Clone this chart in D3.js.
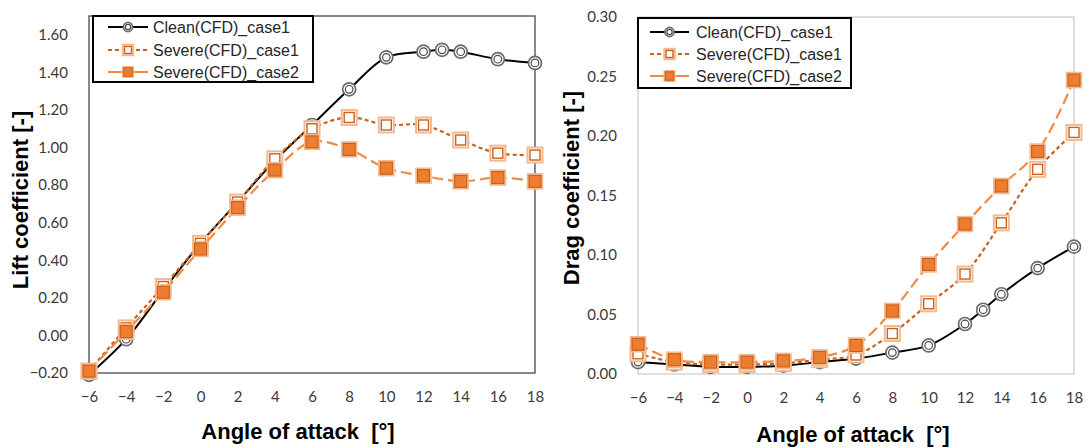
<!DOCTYPE html>
<html><head><meta charset="utf-8">
<script src="https://cdn.jsdelivr.net/npm/d3@7"></script>
<style>body{margin:0;background:#fff}svg{display:block}text{white-space:pre}</style>
</head><body><svg id="c" width="1089" height="448"></svg>
<script>
// ---- data ----
const seriesNames = ["Clean(CFD)_case1", "Severe(CFD)_case1", "Severe(CFD)_case2"];
const aoaClean  = [-6, -4, -2, 0, 2, 4, 6, 8, 10, 12, 13, 14, 16, 18];
const aoaSevere = [-6, -4, -2, 0, 2, 4, 6, 8, 10, 12, 14, 16, 18];
const liftClean   = [-0.21, -0.02, 0.24, 0.49, 0.71, 0.93, 1.12, 1.31, 1.48, 1.51, 1.52, 1.51, 1.47, 1.45];
const liftSevere1 = [-0.19, 0.04, 0.26, 0.49, 0.71, 0.94, 1.10, 1.16, 1.12, 1.12, 1.04, 0.97, 0.96];
const liftSevere2 = [-0.19, 0.02, 0.23, 0.46, 0.68, 0.88, 1.03, 0.99, 0.89, 0.85, 0.82, 0.84, 0.82];
const dragClean   = [0.010, 0.008, 0.006, 0.006, 0.007, 0.010, 0.013, 0.018, 0.024, 0.042, 0.054, 0.067, 0.089, 0.107];
const dragSevere1 = [0.017, 0.010, 0.008, 0.008, 0.009, 0.012, 0.016, 0.034, 0.059, 0.084, 0.127, 0.172, 0.203];
const dragSevere2 = [0.025, 0.012, 0.010, 0.010, 0.011, 0.014, 0.024, 0.053, 0.092, 0.126, 0.158, 0.187, 0.247];
const xTicks = [-6, -4, -2, 0, 2, 4, 6, 8, 10, 12, 14, 16, 18];
const liftTicks = [-0.2, 0, 0.2, 0.4, 0.6, 0.8, 1.0, 1.2, 1.4, 1.6];
const dragTicks = [0, 0.05, 0.10, 0.15, 0.20, 0.25, 0.30];
const xTitle = "Angle of attack  [°]";
const liftTitle = "Lift coefficient [-]";
const dragTitle = "Drag coefficient [-]";

const svg = d3.select("#c");
const C1 = "#C8621E", C2 = "#F08A45", GLOW = "#F5B98F";

function marker(g, kind, x, y, s) {
  s = s || 1;
  if (kind === 0) {
    g.append("circle").attr("cx", x).attr("cy", y).attr("r", 6.5 * s)
      .attr("fill", "#fff").attr("stroke", "#6b6b6b").attr("stroke-width", 1.7);
    g.append("circle").attr("cx", x).attr("cy", y).attr("r", 3.8 * s)
      .attr("fill", "none").attr("stroke", "#4a4a4a").attr("stroke-width", 1.2);
  } else if (kind === 1) {
    const o = 7.5 * s, i = 5 * s;
    g.append("rect").attr("x", x - o).attr("y", y - o).attr("width", 2 * o).attr("height", 2 * o)
      .attr("fill", "#fff").attr("stroke", GLOW).attr("stroke-width", 2);
    g.append("rect").attr("x", x - i).attr("y", y - i).attr("width", 2 * i).attr("height", 2 * i)
      .attr("fill", "#fff").attr("stroke", C1).attr("stroke-width", 1.4);
  } else {
    const o = 7.5 * s, i = 6 * s;
    g.append("rect").attr("x", x - o).attr("y", y - o).attr("width", 2 * o).attr("height", 2 * o)
      .attr("fill", GLOW).attr("stroke", GLOW).attr("stroke-width", 1.5);
    g.append("rect").attr("x", x - i).attr("y", y - i).attr("width", 2 * i).attr("height", 2 * i)
      .attr("fill", "#ED7D31").attr("stroke", "#C55A11").attr("stroke-width", 1);
  }
}
const lineStyles = [
  {color: "#000", dash: null, w: 2},
  {color: C1, dash: "4,3", w: 2.2},
  {color: C2, dash: "11,5", w: 2.2}
];

function drawChart(cfg) {
  const g = svg.append("g");
  const x = d3.scaleLinear().domain([-6, 18]).range([cfg.left, cfg.right]);
  const y = d3.scaleLinear().domain(cfg.yDomain).range([cfg.bottom, cfg.top]);
  g.append("rect").attr("x", cfg.left).attr("y", cfg.top)
    .attr("width", cfg.right - cfg.left).attr("height", cfg.bottom - cfg.top)
    .attr("fill", "none").attr("stroke", cfg.frame).attr("stroke-width", cfg.frameW);
  const ax = g.append("g").attr("transform", `translate(0,${cfg.bottom})`)
    .call(d3.axisBottom(x).tickValues(xTicks).tickSize(0).tickPadding(cfg.xPad).tickFormat(d3.format("d")));
  const ay = g.append("g").attr("transform", `translate(${cfg.left},0)`)
    .call(d3.axisLeft(y).tickValues(cfg.yTicks).tickSize(0).tickPadding(cfg.yPad).tickFormat(d3.format(".2f")));
  [ax, ay].forEach(a => {
    a.select(".domain").remove();
    a.selectAll("text").attr("font-family", "Lato, 'Open Sans', sans-serif").attr("font-size", 15).attr("fill", "#3a3a3a");
  });
  const curve = d3.curveCatmullRom.alpha(0.5);
  cfg.series.forEach((s, k) => {
    const pts = s.x.map((v, i) => [x(v), y(s.y[i])]);
    const st = lineStyles[k];
    g.append("path").attr("d", d3.line().curve(curve)(pts)).attr("fill", "none")
      .attr("stroke", st.color).attr("stroke-width", st.w)
      .attr("stroke-dasharray", st.dash);
    const mg = g.append("g");
    pts.forEach(p => marker(mg, k, p[0], p[1]));
  });
  g.append("text").attr("x", cfg.xTitleX).attr("y", cfg.xTitleY).attr("text-anchor", "middle")
    .attr("font-family", "'Liberation Sans', Arial, sans-serif").attr("font-weight", "bold")
    .attr("font-size", 22).attr("fill", "#000").text(xTitle);
  g.append("text").attr("transform", `translate(${cfg.yTitleX},${cfg.yTitleY}) rotate(-90)`)
    .attr("text-anchor", "middle")
    .attr("font-family", "'Liberation Sans', Arial, sans-serif").attr("font-weight", "bold")
    .attr("font-size", 22).attr("fill", "#000").text(cfg.yTitle);
  const L = cfg.legend;
  const lg = g.append("g");
  lg.append("rect").attr("x", L.x).attr("y", L.y).attr("width", L.w).attr("height", L.h)
    .attr("fill", "#fff").attr("stroke", "#000").attr("stroke-width", 2);
  seriesNames.forEach((n, k) => {
    const ry = L.rows[k];
    const st = lineStyles[k];
    lg.append("line").attr("x1", L.x + L.l0).attr("x2", L.x + L.l1).attr("y1", ry).attr("y2", ry)
      .attr("stroke", st.color).attr("stroke-width", st.w)
      .attr("stroke-dasharray", k === 1 ? "4,3" : null);
    marker(lg, k, L.x + (L.l0 + L.l1) / 2, ry, 0.7);
    lg.append("text").attr("x", L.x + L.tx).attr("y", ry).attr("dy", "0.36em")
      .attr("font-family", "'Liberation Sans', Arial, sans-serif").attr("font-size", 16)
      .attr("fill", "#262626").text(n);
  });
}

drawChart({
  left: 89, right: 535, top: 16, bottom: 373,
  yDomain: [-0.2, 1.7], yTicks: liftTicks,
  frame: "#555", frameW: 1.4, xPad: 18, yPad: 21,
  series: [{x: aoaClean, y: liftClean}, {x: aoaSevere, y: liftSevere1}, {x: aoaSevere, y: liftSevere2}],
  xTitleX: 298, xTitleY: 439, yTitleX: 28, yTitleY: 200, yTitle: liftTitle,
  legend: {x: 93, y: 16, w: 220, h: 66, rows: [27, 50, 72], l0: 15, l1: 55, tx: 60}
});
drawChart({
  left: 638, right: 1074, top: 17, bottom: 374,
  yDomain: [0, 0.30], yTicks: dragTicks,
  frame: "#bfbfbf", frameW: 1, xPad: 18, yPad: 21,
  series: [{x: aoaClean, y: dragClean}, {x: aoaSevere, y: dragSevere1}, {x: aoaSevere, y: dragSevere2}],
  xTitleX: 853, xTitleY: 442, yTitleX: 579, yTitleY: 188, yTitle: dragTitle,
  legend: {x: 638, y: 18, w: 213, h: 70, rows: [32, 54, 76], l0: 12, l1: 51, tx: 58}
});
</script></body></html>
